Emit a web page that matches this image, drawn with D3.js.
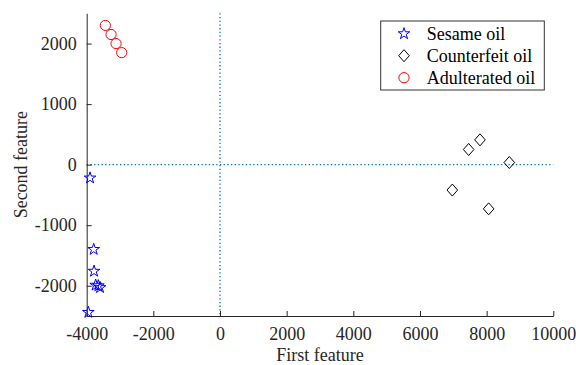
<!DOCTYPE html>
<html>
<head>
<meta charset="utf-8">
<script src="https://cdn.jsdelivr.net/npm/d3@7"></script>
<style>
  body { margin: 0; background: #fff; }
  svg text { font-family: "Liberation Serif", "Times New Roman", Times, "DejaVu Serif", serif; }
</style>
</head>
<body>
<div id="chart"></div>
<script>
// data
var sesameX = [-3900, -3790, -3780, -3730, -3650, -3600, -3950],
  sesameY = [-220, -1400, -1760, -1990, -2000, -2030, -2440];
var counterfeitX = [7460, 7800, 8680, 6970, 8060],
  counterfeitY = [250, 410, 35, -420, -730];
var adulteratedX = [-3440, -3270, -3120, -2950],
  adulteratedY = [2300, 2150, 2000, 1850];
var xTicks = [-4000, -2000, 0, 2000, 4000, 6000, 8000, 10000],
  yTicks = [-2000, -1000, 0, 1000, 2000];
var seriesNames = ["Sesame oil", "Counterfeit oil", "Adulterated oil"];

var width = 576,
  height = 365,
  margin = {top: 13.3, right: 22.7, bottom: 49, left: 86.7},
  axisColor = "#262626",
  refColor = "#0072BD",
  serif = "'Liberation Serif', 'Times New Roman', Times, 'DejaVu Serif', serif";

var svg = d3.select("#chart").append("svg")
  .attr("width", width)
  .attr("height", height)
  .attr("font-family", serif);

var x = d3.scaleLinear().domain([-4000, 10000]).range([margin.left, width - margin.right]),
  y = d3.scaleLinear().domain([-2500, 2500]).range([height - margin.bottom, margin.top]);

// matlab style diamond, a bit taller than wide
var diamond = {
  draw: function(ctx, size) {
    var w = 5.3, h = 6;
    ctx.moveTo(0, -h);
    ctx.lineTo(w, 0);
    ctx.lineTo(0, h);
    ctx.lineTo(-w, 0);
    ctx.closePath();
  }
};

// zero reference lines
svg.append("line")
  .attr("x1", x(-4000)).attr("x2", x(10000))
  .attr("y1", y(0)).attr("y2", y(0))
  .attr("stroke", refColor).attr("stroke-width", 1.3)
  .attr("stroke-dasharray", "1.3,2.4");
svg.append("line")
  .attr("x1", x(0)).attr("x2", x(0))
  .attr("y1", y(2500)).attr("y2", y(-2500))
  .attr("stroke", refColor).attr("stroke-width", 1.3)
  .attr("stroke-dasharray", "1.3,2.4");

// axes, ticks inward
var xAxis = svg.append("g")
  .attr("transform", "translate(0," + y(-2500) + ")")
  .call(d3.axisBottom(x).tickValues(xTicks).tickSizeInner(-5).tickSizeOuter(0).tickPadding(11).tickFormat(d3.format("d")));
var yAxis = svg.append("g")
  .attr("transform", "translate(" + x(-4000) + ",0)")
  .call(d3.axisLeft(y).tickValues(yTicks).tickSizeInner(-5).tickSizeOuter(0).tickPadding(10).tickFormat(d3.format("d")));

[xAxis, yAxis].forEach(function(g) {
  g.attr("font-family", serif).attr("font-size", 18);
  g.select(".domain").attr("stroke", axisColor).attr("stroke-width", 1);
  g.selectAll(".tick line").attr("stroke", axisColor);
  g.selectAll(".tick text")
    .attr("fill", axisColor)
    .text(function(d) { return String(d).replace("\u2212", "-"); });
});

svg.append("text")
  .attr("x", (x(-4000) + x(10000)) / 2)
  .attr("y", 361)
  .attr("text-anchor", "middle")
  .attr("fill", axisColor)
  .attr("font-size", 18)
  .text("First feature");

svg.append("text")
  .attr("transform", "translate(27," + (y(2500) + y(-2500)) / 2 + ") rotate(-90)")
  .attr("text-anchor", "middle")
  .attr("fill", axisColor)
  .attr("font-size", 18)
  .text("Second feature");

// markers
var star = d3.symbol().type(d3.symbolStar).size(42),
  circle = d3.symbol().type(d3.symbolCircle).size(82),
  diam = d3.symbol().type(diamond);

svg.append("g").selectAll("path")
  .data(d3.range(counterfeitX.length))
  .enter().append("path")
  .attr("transform", function(i) { return "translate(" + x(counterfeitX[i]) + "," + y(counterfeitY[i]) + ")"; })
  .attr("d", diam)
  .attr("fill", "none").attr("stroke", "#000").attr("stroke-width", 1);

svg.append("g").selectAll("path")
  .data(d3.range(adulteratedX.length))
  .enter().append("path")
  .attr("transform", function(i) { return "translate(" + x(adulteratedX[i]) + "," + y(adulteratedY[i]) + ")"; })
  .attr("d", circle)
  .attr("fill", "none").attr("stroke", "#ff0000").attr("stroke-width", 1);

svg.append("g").selectAll("path")
  .data(d3.range(sesameX.length))
  .enter().append("path")
  .attr("transform", function(i) { return "translate(" + x(sesameX[i]) + "," + y(sesameY[i]) + ")"; })
  .attr("d", star)
  .attr("fill", "none").attr("stroke", "#0000ff").attr("stroke-width", 1);

// legend
var legend = svg.append("g").attr("transform", "translate(380.7,21)");
legend.append("rect")
  .attr("width", 163.6).attr("height", 69)
  .attr("fill", "#fff").attr("stroke", "#333").attr("stroke-width", 1);

var legendMarks = [
  {d: star, color: "#0000ff"},
  {d: diam, color: "#000"},
  {d: circle, color: "#ff0000"}
];
var rows = legend.selectAll(".key")
  .data(seriesNames)
  .enter().append("g")
  .attr("class", "key")
  .attr("transform", function(d, i) { return "translate(0," + (12.7 + i * 22) + ")"; });

rows.append("path")
  .attr("transform", "translate(23.3,0)")
  .attr("d", function(d, i) { return legendMarks[i].d(); })
  .attr("fill", "none")
  .attr("stroke", function(d, i) { return legendMarks[i].color; });

rows.append("text")
  .attr("x", 46)
  .attr("y", 6)
  .attr("fill", "#000")
  .attr("font-size", 18)
  .text(function(d) { return d; });
</script>
</body>
</html>
